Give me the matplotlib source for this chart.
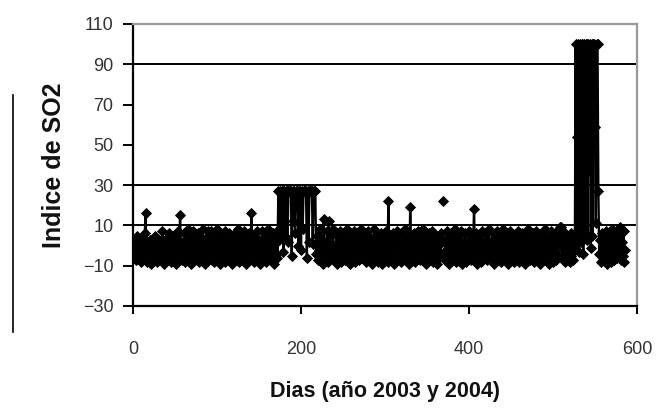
import matplotlib

matplotlib.use("Agg")
import matplotlib.pyplot as plt
from matplotlib.lines import Line2D
import numpy as np

nan = np.nan

# Indice de SO2 diario, ene 2003 - ago 2004
ene03 = [-4, 2, -7, -1, 5, -6, -3, 3, -8, 0, -5, 4, -2, 6, 16, -3, -8, 1, -6, 3, -4, -9, 2, -1, -7, 5, -3, -8, 0, -5, 3]
feb03 = [-6, 1, -2, 7, -5, -9, 2, -3, 4, -7, -1, 6, -4, -8, 3, -2, 5, -6, 0, -9, 4, -3, 7, -5, 15, -2, -7, 2]
mar03 = [-4, 6, -8, 1, -3, 8, -6, -1, 4, -9, 2, -5, 7, -2, -7, 3, -4, 6, -8, 0, 5, -6, -2, 8, -5, 1, -9, 4, -3, 7, -6]
abr03 = [2, -4, 7, -7, -1, 5, -8, 3, -3, 8, -5, 0, -9, 6, -2, 4, -6, 1, -8, 7, -3, 2, -5, 6, -7, -1, 4, -9, 3, -4]
may03 = [6, -6, 1, -2, 8, -8, 3, -5, 5, -1, -7, 7, -3, 2, -9, 4, -4, 6, -6, 0, 16, -5, 3, -8, 5, -2, -6, 7, -4, 1, -9]
jun03 = [3, -4, 7, -6, -1, 5, -8, 2, -3, 8, -5, 0, -7, 4, -2, 6, -9, 1, -4, 7, -6, 27, 3, 27, 4, 27, 27, -3, 27, 5]
jul03 = [27, 27, 2, 27, 27, 27, 27, -5, 27, 12, 27, 6, 27, 27, 27, 0, 27, 27, -2, 27, 8, 27, 27, 27, 27, -6, 27, 2, 27, 27, 27]
ago03 = [27, 1, 27, 27, 27, -4, 5, -7, 2, -2, 8, -6, 3, -9, 13, -3, 1, -5, 7, -8, 12, -1, -6, 5, -3, 8, -7, 0, -4, 6, -9]
sep03 = [2, -5, 7, -2, -8, 4, -4, 6, -7, 1, -3, 8, -6, 0, -9, 5, -2, 3, -5, 7, -8, 2, -4, 6, -1, -7, 4, -3, 8, -6]
oct03 = [1, -5, 6, -8, 3, -2, 7, -6, -1, 4, -9, 2, -4, 8, -7, 0, -3, 5, -8, 3, -5, 6, -2, -9, 4, -6, 1, 7, -4, -8, 22]
nov03 = [-3, 5, -7, 2, -1, 6, -9, 3, -4, 7, -6, 0, -2, 4, -8, 6, -5, 1, -3, 8, -7, 2, -4, 5, -9, 19, -2, -6, 3, -5]
dic03 = [6, -8, 2, -3, 7, -5, 0, -7, 4, -2, 8, -6, -1, 5, -9, 3, -4, 6, -7, 1, -3, 7, -8, 2, -5, 5, -2, -9, 4, -6, 1]
ene04 = [-4, 6, nan, 22, nan, -7, 3, -2, 7, -5, -9, 4, -1, 6, -6, 2, -3, 8, -8, 0, -4, 5, -7, 3, -2, 7, -9, 1, -5, 6, -3]
feb04 = [-8, 2, -5, 7, -2, -7, 4, -4, 1, 18, -3, 6, -9, 3, -6, 5, -1, -8, 7, -4, 2, -6, 0, 6, -7, 3, -3, 8, -5]
mar04 = [1, -6, 6, -3, -9, 4, -1, 7, -7, 2, -4, 5, -8, 0, -2, 8, -6, 3, -5, 6, -9, 1, -3, 7, -7, 4, -1, -8, 5, -4, 2]
abr04 = [-6, 7, -2, -8, 3, -4, 6, -7, 0, 5, -9, 2, -3, 8, -5, 1, -7, 4, -2, 6, -8, 3, -5, 7, -1, -6, 2, -9, 5, -3]
may04 = [6, -7, 1, -4, 8, -6, 3, -2, -9, 5, -5, 7, -1, -8, 4, -3, 6, -7, 2, -5, 8, 9, 0, 9, -6, 7, -2, -8, 3, -4, 5]
jun04 = [-3, 4, -8, 6, -5, 2, -7, 5, -2, 100, 1, 54, 100, -3, 100, 2, 100, 100, -4, 100, 6, 100, 100, 3, 100, 37, 100, -1, 100, 5]
jul04 = [100, 100, 59, 11, 100, 100, 27, -4, 3, -8, 6, -2, -7, 4, -4, 7, -9, 1, -6, 5, -3, -8, 8, -5, 2, -7, 6, -2, -6, 4, -3]
ago04 = [5, 9, -7, 2, -5, 7, -8, -2]

x_ticks = [0, 200, 400, 600]
y_ticks = [-30, -10, 10, 30, 50, 70, 90, 110]
grid_levels = [10, 30, 90]

so2 = np.array(ene03 + feb03 + mar03 + abr03 + may03 + jun03 + jul03 + ago03 + sep03
               + oct03 + nov03 + dic03 + ene04 + feb04 + mar04 + abr04 + may04 + jun04
               + jul04 + ago04, dtype=float)
dias = np.arange(1, len(so2) + 1)

plt.rcParams["font.family"] = ["Liberation Sans", "DejaVu Sans"]

fig = plt.figure(figsize=(6.56, 4.08), dpi=100)
ax = fig.add_axes([133 / 656, 1 - 306 / 408, 504 / 656, 282 / 408])

for level in grid_levels:
    ax.axhline(level, color="black", linewidth=1.4, zorder=1)

ax.plot(dias, so2, color="black", linewidth=1.7, marker="D", markersize=4.8,
        markeredgewidth=0.6, zorder=3)

ax.set_xlim(0, 600)
ax.set_ylim(-30, 110)
ax.set_xticks(x_ticks)
ax.set_yticks(y_ticks)

for side in ["left", "bottom"]:
    ax.spines[side].set_color("black")
    ax.spines[side].set_linewidth(1.6)
for side in ["top", "right"]:
    ax.spines[side].set_color("#9a9a9a")
    ax.spines[side].set_linewidth(1.6)

ax.tick_params(axis="y", direction="out", length=7, width=1.4, pad=7,
               labelsize=13, labelcolor="#333333")
ax.tick_params(axis="x", direction="out", length=6, width=1.4, pad=19,
               labelsize=13, labelcolor="#333333")

ax.set_xlabel("Dias (año 2003 y 2004)", fontsize=15.5, fontweight="bold", color="#111111")
ax.set_ylabel("Indice de SO2", fontsize=18, fontweight="bold", color="#111111")
ax.xaxis.set_label_coords(0.5, -0.265)
ax.yaxis.set_label_coords(-0.133, 0.5)

fig.add_artist(Line2D([13 / 656, 13 / 656], [1 - 332 / 408, 1 - 95 / 408],
                      color="black", linewidth=1.2))

fig.savefig("out.png", dpi=100)
plt.close(fig)
